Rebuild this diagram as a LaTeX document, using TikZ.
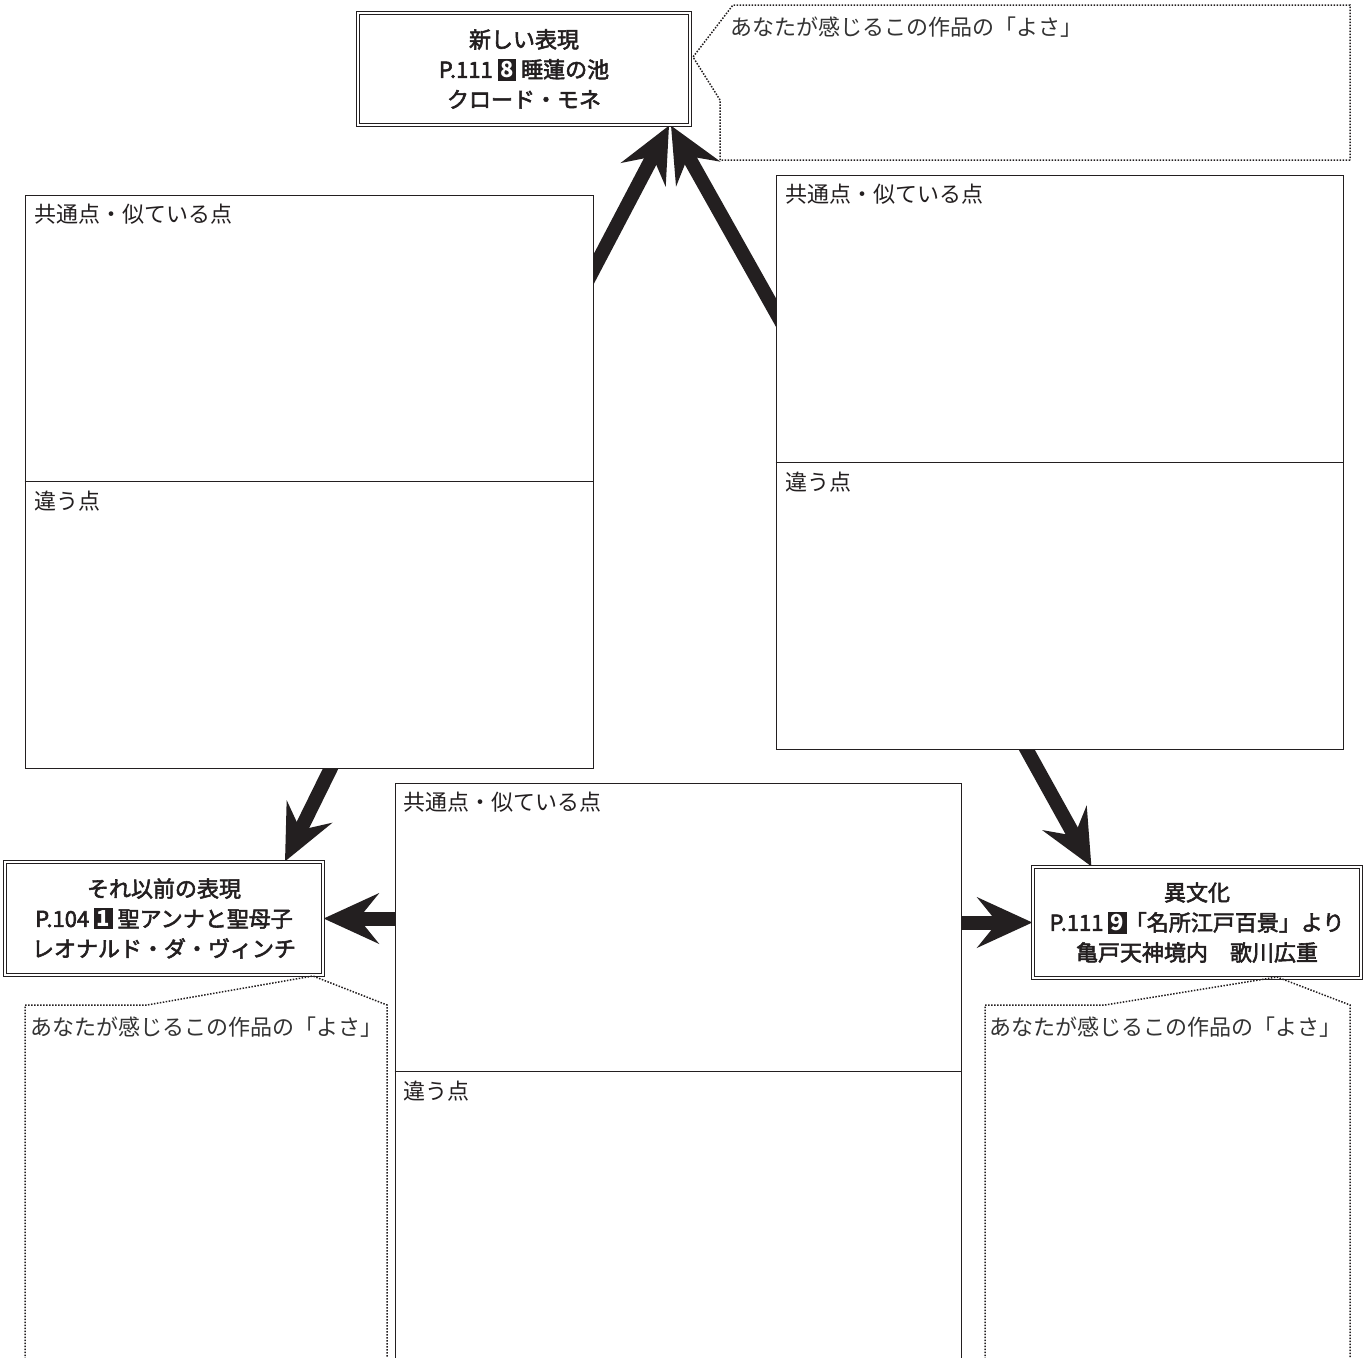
\documentclass[tikz,border=0pt]{standalone}
\usepackage{fontspec}
\setmainfont{Noto Sans CJK JP}
\newfontfamily\titlefont[FakeBold=2.5]{Noto Sans CJK JP}
\usepackage{tikz}
\usetikzlibrary{arrows.meta}
\pgfdeclarelayer{bg}
\pgfsetlayers{bg,main}
\definecolor{ink}{HTML}{231F20}
\definecolor{note}{HTML}{333333}
\newcommand{\numbox}[1]{\hspace{5pt}{\setlength{\fboxsep}{2.5pt}\colorbox{ink}{\textcolor{white}{\normalfont\bfseries #1}}}\hspace{5pt}}

\begin{document}
\begin{tikzpicture}[x=1pt,y=-1pt,
  every node/.style={inner sep=0pt,text=ink,font=\fontsize{22}{30}\selectfont},
  titlebox/.style={draw=ink,line width=1.2pt,double,double distance=2.2pt,align=center,font=\fontsize{22}{30}\selectfont\titlefont},
  panel/.style={draw=ink,line width=1pt,fill=white},
  paneltag/.style={anchor=west},
  yosa/.style={anchor=west,text=note},
  yosaline/.style={draw=ink,line width=1.5pt,dash pattern=on 1.5pt off 1.5pt},
  bigarrow/.style={ink,line width=14pt,-{Stealth[length=55pt,width=50pt,inset=20pt]}}]
  \useasboundingbox (0,0) rectangle (1365,1357);

  \node[panel,minimum width=568pt,minimum height=573pt] (p1) at (309,481.5) {};
  \node[panel,minimum width=567pt,minimum height=574pt] (p2) at (1059.5,462) {};
  \node[panel,minimum width=566pt,minimum height=577pt] (p3) at (678,1071.5) {};
  \draw[ink,line width=1pt] (p1.west) -- (p1.east);
  \draw[ink,line width=1pt] (p2.west) -- (p2.east);
  \draw[ink,line width=1pt] (p3.west) -- (p3.east);
  \node[paneltag] at ([shift={(10,20)}]p1.north west) {共通点・似ている点};
  \node[paneltag] at ([shift={(10,20)}]p1.west) {違う点};
  \node[paneltag] at ([shift={(10,20)}]p2.north west) {共通点・似ている点};
  \node[paneltag] at ([shift={(10,20)}]p2.west) {違う点};
  \node[paneltag] at ([shift={(9,20)}]p3.north west) {共通点・似ている点};
  \node[paneltag] at ([shift={(9,20)}]p3.west) {違う点};

  \node[titlebox,minimum width=332pt,minimum height=112pt] (newbox) at (524,69)
    {新しい表現\\P.111\numbox{8}睡蓮の池\\クロード・モネ};
  \node[titlebox,minimum width=318pt,minimum height=113pt] (oldbox) at (164,918.5)
    {それ以前の表現\\P.104\numbox{1}聖アンナと聖母子\\レオナルド・ダ・ヴィンチ};
  \node[titlebox,minimum width=328pt,minimum height=111pt] (otherbox) at (1197,922.5)
    {異文化\\P.111\numbox{9}\hspace{-7pt}「名所江戸百景」より\\亀戸天神境内　歌川広重};

  \begin{pgfonlayer}{bg}
    \draw[bigarrow] ([shift={(-10,94)}]p1.north east) -- ([shift={(145,0)}]newbox.south);
    \draw[bigarrow] ([shift={(10,155)}]p2.north west) -- ([shift={(147,0)}]newbox.south);
    \draw[bigarrow] ([shift={(316,-20)}]p1.south west) -- ([shift={(121,0)}]oldbox.north);
    \draw[bigarrow] (p3.west |- oldbox.east) -- (oldbox.east);
    \draw[bigarrow] (p3.east |- otherbox.west) -- (otherbox.west);
    \draw[bigarrow] ([shift={(240,-20)}]p2.south west) -- ([shift={(59,0)}]otherbox.north west);
  \end{pgfonlayer}

  % よさ
  \draw[yosaline] (1350,160) -- (720,160) -- (720,100) -- (693,57) -- (733,5) -- (1350,5) -- cycle;
  \node[yosa] (y1) at (730,27) {あなたが感じるこの作品の「よさ」};
  \draw[yosaline] (25,1365) -- (25,1005) -- (147,1005) -- (313,976) -- (387,1005) -- (387,1365);
  \node[yosa] (y2) at (30,1027) {あなたが感じるこの作品の「よさ」};
  \draw[yosaline] (985,1365) -- (985,1005) -- (1105,1005) -- (1277,977) -- (1350,1005) -- (1350,1365);
  \node[yosa] (y3) at (989,1027) {あなたが感じるこの作品の「よさ」};
\end{tikzpicture}
\end{document}
